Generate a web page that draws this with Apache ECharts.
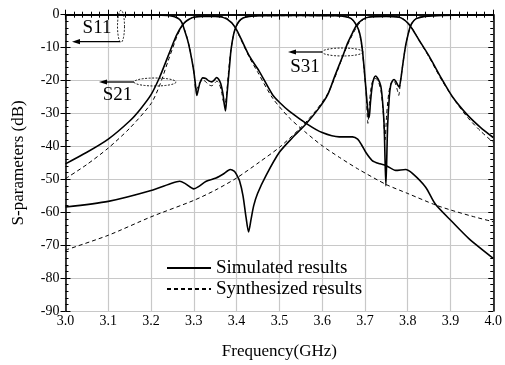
<!DOCTYPE html>
<html>
<head>
<meta charset="utf-8">
<script src="https://cdn.jsdelivr.net/npm/echarts@6/dist/echarts.min.js"></script>
<style>
  html, body { margin: 0; padding: 0; background: #fff; }
  #chart { width: 505px; height: 365px; }
</style>
</head>
<body>
<div id="chart"></div>
<script>
// S11, simulated / synthesized
var s11SimF = [3.00,3.10,3.20,3.24,3.255,3.265,3.272,3.279,3.285,3.29,3.295,3.30,3.304,3.307,3.310,3.314,3.321,3.328,3.335,3.342,3.348,3.353,3.358,3.363,3.368,3.371,3.374,3.377,3.380,3.384,3.387,3.393,3.399,3.407,3.415,3.43,3.46,3.55,3.63,3.655,3.668,3.677,3.685,3.69,3.694,3.698,3.703,3.707,3.710,3.713,3.717,3.721,3.725,3.731,3.737,3.741,3.745,3.749,3.753,3.757,3.76,3.764,3.768,3.772,3.776,3.780,3.784,3.788,3.792,3.796,3.80,3.805,3.81,3.82,3.84,3.88,4.00];
var s11SimDb = [0,-0.05,-0.1,-0.25,-0.6,-1.3,-2.4,-5.0,-7.5,-10.2,-13.5,-17.3,-21.5,-24.5,-23,-20.8,-19.2,-19.4,-20.1,-20.4,-19.8,-19.1,-19.6,-21,-24,-27,-29.2,-25,-20.6,-14.8,-10.6,-6,-3.5,-1.8,-1.0,-0.5,-0.3,-0.2,-0.3,-0.6,-1.2,-2.5,-4.5,-7,-10.6,-16,-23.6,-29.5,-31.2,-26.5,-21.6,-19.3,-18.6,-19.6,-21.6,-26,-34,-52,-34,-25,-21.6,-20.2,-19.7,-20.2,-21.2,-22,-19.5,-15.6,-12.0,-8.8,-6.5,-4.0,-2.5,-1.2,-0.5,-0.2,-0.1];
var s11SynF = [3.00,3.20,3.24,3.255,3.265,3.272,3.279,3.285,3.29,3.295,3.30,3.305,3.309,3.314,3.321,3.328,3.335,3.342,3.348,3.354,3.36,3.365,3.369,3.373,3.377,3.381,3.385,3.39,3.396,3.405,3.415,3.43,3.46,3.63,3.655,3.668,3.677,3.685,3.69,3.694,3.698,3.703,3.707,3.711,3.716,3.721,3.726,3.732,3.738,3.743,3.747,3.751,3.756,3.761,3.766,3.771,3.776,3.779,3.783,3.787,3.791,3.795,3.80,3.806,3.812,3.82,3.84,3.88,4.00];
var s11SynDb = [0,-0.05,-0.2,-0.5,-1.2,-2.3,-4.8,-7.3,-10,-13.4,-17.2,-23,-22,-20.6,-19.8,-20.4,-21.3,-21.6,-20.9,-20.2,-21.2,-23.5,-26.3,-27,-23.5,-17.5,-12.5,-8,-4.6,-2.2,-1.1,-0.5,-0.3,-0.3,-0.6,-1.2,-2.6,-4.7,-7.5,-11,-16.5,-24,-33,-26,-21,-19.5,-19.4,-20.5,-23.5,-30,-38,-30,-23.5,-20.8,-20.0,-20.8,-23,-24.5,-20.5,-16.5,-12.8,-9.5,-6.5,-3.8,-2.3,-1.1,-0.5,-0.2,-0.1];

// S21
var s21SimF = [3.00,3.05,3.10,3.15,3.175,3.20,3.22,3.24,3.25,3.26,3.27,3.28,3.29,3.30,3.32,3.35,3.365,3.375,3.383,3.39,3.40,3.41,3.43,3.453,3.484,3.50,3.523,3.566,3.60,3.64,3.671,3.683,3.692,3.702,3.717,3.735,3.749,3.772,3.795,3.811,3.842,3.865,3.904,3.943,4.00];
var s21SimDb = [-45.3,-41.8,-37.8,-32.3,-28.7,-24.3,-19.0,-12.5,-9.2,-6.1,-3.8,-2.2,-1.3,-0.8,-0.5,-0.5,-0.7,-1.2,-1.9,-2.7,-4.6,-7.2,-12.6,-17.2,-24.3,-26.6,-29.3,-33.3,-35.8,-37.1,-37.1,-37.8,-39.5,-41.8,-44.3,-45.3,-45.8,-47.3,-47.0,-48.2,-52.4,-57.6,-62.9,-68.0,-74.0];
var s21SynF = [3.00,3.05,3.10,3.15,3.20,3.22,3.24,3.26,3.27,3.28,3.30,3.35,3.37,3.38,3.39,3.40,3.43,3.45,3.484,3.523,3.562,3.60,3.64,3.683,3.75,3.80,3.865,3.90,3.95,4.00];
var s21SynDb = [-49.8,-45.5,-40.5,-34.5,-27.0,-21.5,-14.0,-6.8,-4.0,-2.3,-0.7,-0.4,-0.7,-1.3,-2.6,-4.8,-13.0,-17.6,-25.3,-31.3,-35.8,-39.8,-43.3,-46.8,-51.6,-54.3,-57.8,-59.3,-61.2,-62.9];

// S31
var s31SimF = [3.00,3.10,3.20,3.25,3.267,3.28,3.30,3.31,3.329,3.352,3.37,3.385,3.395,3.40,3.407,3.415,3.422,3.428,3.434,3.44,3.449,3.469,3.50,3.531,3.562,3.593,3.613,3.63,3.648,3.66,3.671,3.68,3.694,3.71,3.75,3.78,3.79,3.80,3.81,3.826,3.85,3.88,3.905,3.94,3.97,4.00];
var s31SimDb = [-58.4,-56.7,-53.4,-51.1,-50.6,-51.3,-52.9,-52.3,-50.6,-49.6,-48.3,-47.0,-47.6,-48.6,-50.5,-55,-61.5,-66,-62,-58,-54.3,-48.8,-41.8,-37.3,-33.2,-28.3,-24.3,-18.5,-12.6,-8.5,-5.5,-3.3,-1.5,-0.7,-0.5,-0.8,-1.4,-2.5,-4.2,-7.6,-12.6,-19.6,-25.0,-30.5,-34.2,-37.3];
var s31SynF = [3.00,3.10,3.20,3.30,3.35,3.40,3.453,3.50,3.547,3.585,3.613,3.63,3.645,3.66,3.67,3.68,3.69,3.70,3.72,3.76,3.78,3.79,3.80,3.81,3.83,3.85,3.88,3.91,3.94,3.97,4.00];
var s31SynDb = [-71.5,-67.0,-61.4,-56.4,-53.3,-49.6,-44.8,-40.3,-34.7,-29.2,-24.0,-19.0,-13.8,-9.0,-6.3,-3.9,-2.2,-1.2,-0.5,-0.4,-0.7,-1.3,-2.3,-4.0,-8.5,-12.9,-20.0,-26.0,-31.2,-35.3,-38.8];

var legendNames = ['Simulated results', 'Synthesized results'];

var FONT = 'Liberation Serif';

function zip(f, d) {
  return f.map(function (x, i) { return [x, d[i]]; });
}

function simLine(f, d) {
  return {
    name: legendNames[0], type: 'line', data: zip(f, d),
    symbol: 'none', smooth: 0.25, z: 3, color: '#000',
    lineStyle: { color: '#000', width: 1.6 }
  };
}
function synLine(f, d) {
  return {
    name: legendNames[1], type: 'line', data: zip(f, d),
    symbol: 'none', smooth: 0.25, z: 2, color: '#000',
    lineStyle: { color: '#000', width: 1, type: [4, 3] }
  };
}

// dotted ellipse outline for the curve markers
function ellipse(cx, cy, rx, ry) {
  var pts = [];
  for (var i = 0; i < 48; i++) {
    var a = i / 48 * Math.PI * 2;
    pts.push([cx + rx * Math.cos(a), cy + ry * Math.sin(a)]);
  }
  return {
    type: 'polygon', shape: { points: pts },
    style: { fill: 'none', stroke: '#000', lineWidth: 0.9, lineDash: [2, 1.5] }, z: 10
  };
}
function arrow(x1, x2, y) {
  return [
    { type: 'line', shape: { x1: x1, y1: y, x2: x2 + 6, y2: y }, style: { stroke: '#000', lineWidth: 1.3 }, z: 10 },
    { type: 'polygon', shape: { points: [[x2, y], [x2 + 8, y - 2.6], [x2 + 8, y + 2.6]] }, style: { fill: '#000' }, z: 10 }
  ];
}
function label(txt, x, y) {
  return {
    type: 'text', x: x, y: y, z: 10,
    style: { text: txt, fill: '#000', font: '19px "' + FONT + '"', align: 'center', verticalAlign: 'middle', textAlign: 'center', textVerticalAlign: 'middle' }
  };
}

var gridLine = { show: true, lineStyle: { color: '#c8c8c8', width: 1.2 } };
var tickLabel = { color: '#000', fontFamily: FONT, fontSize: 14 };

var option = {
  animation: false,
  backgroundColor: '#fff',
  grid: { left: 65.5, right: 10.5, top: 14.7, bottom: 52 },
  legend: {
    data: legendNames,
    orient: 'vertical',
    left: 161, top: 253,
    itemWidth: 44, itemHeight: 14, itemGap: 1,
    itemStyle: { opacity: 0 },
    textStyle: { color: '#000', fontFamily: FONT, fontSize: 19, lineHeight: 20 },
    selectedMode: false
  },
  xAxis: [{
    type: 'value', min: 3, max: 4, interval: 0.1, position: 'bottom',
    name: 'Frequency(GHz)', nameLocation: 'middle', nameGap: 32,
    nameTextStyle: { color: '#000', fontFamily: FONT, fontSize: 17 },
    axisLine: { lineStyle: { color: '#000', width: 1.5 } },
    axisTick: { inside: true, length: 5, lineStyle: { color: '#000' } },
    minorTick: { show: true, splitNumber: 5, length: 3, lineStyle: { color: '#000' } },
    axisLabel: Object.assign({ margin: 3, formatter: function (v) { return v.toFixed(1); } }, tickLabel),
    splitLine: gridLine
  }, {
    type: 'value', min: 3, max: 4, interval: 0.1, position: 'top',
    axisLine: { lineStyle: { color: '#000', width: 1.5 } },
    axisTick: { inside: true, length: 5, lineStyle: { color: '#000' } },
    minorTick: { show: true, splitNumber: 5, length: 3, lineStyle: { color: '#000' } },
    axisLabel: { show: false }, splitLine: { show: false }
  }],
  yAxis: [{
    type: 'value', min: -90, max: 0, interval: 10, position: 'left',
    name: 'S-parameters (dB)', nameLocation: 'middle', nameGap: 38,
    nameTextStyle: { color: '#000', fontFamily: FONT, fontSize: 17 },
    axisLine: { lineStyle: { color: '#000', width: 1.5 } },
    axisTick: { inside: false, length: 5, lineStyle: { color: '#000' } },
    axisLabel: Object.assign({ margin: 6 }, tickLabel),
    splitLine: gridLine
  }, {
    type: 'value', min: -90, max: 0, interval: 10, position: 'left',
    axisLine: { show: false },
    axisTick: { inside: true, length: 5, lineStyle: { color: '#000' } },
    minorTick: { show: true, splitNumber: 5, length: 3, lineStyle: { color: '#000' } },
    axisLabel: { show: false }, splitLine: { show: false }
  }, {
    type: 'value', min: -90, max: 0, interval: 10, position: 'right',
    axisLine: { show: true, lineStyle: { color: '#000', width: 1.5 } },
    axisTick: { inside: true, length: 5, lineStyle: { color: '#000' } },
    minorTick: { show: true, splitNumber: 5, length: 3, lineStyle: { color: '#000' } },
    axisLabel: { show: false }, splitLine: { show: false }
  }],
  series: [
    synLine(s11SynF, s11SynDb),
    synLine(s21SynF, s21SynDb),
    synLine(s31SynF, s31SynDb),
    simLine(s11SimF, s11SimDb),
    simLine(s21SimF, s21SimDb),
    simLine(s31SimF, s31SimDb)
  ],
  graphic: [].concat(
    [ellipse(121, 26.3, 3.5, 16), ellipse(155, 82, 21, 4), ellipse(342.5, 52, 20.5, 4)],
    arrow(120, 72, 41.7), arrow(134, 99, 82), arrow(322, 288, 52),
    [label('S11', 97, 28.3), label('S21', 117.5, 95), label('S31', 305, 67)]
  )
};

var chart = echarts.init(document.getElementById('chart'), null, { renderer: 'canvas' });
chart.setOption(option);
</script>
</body>
</html>
